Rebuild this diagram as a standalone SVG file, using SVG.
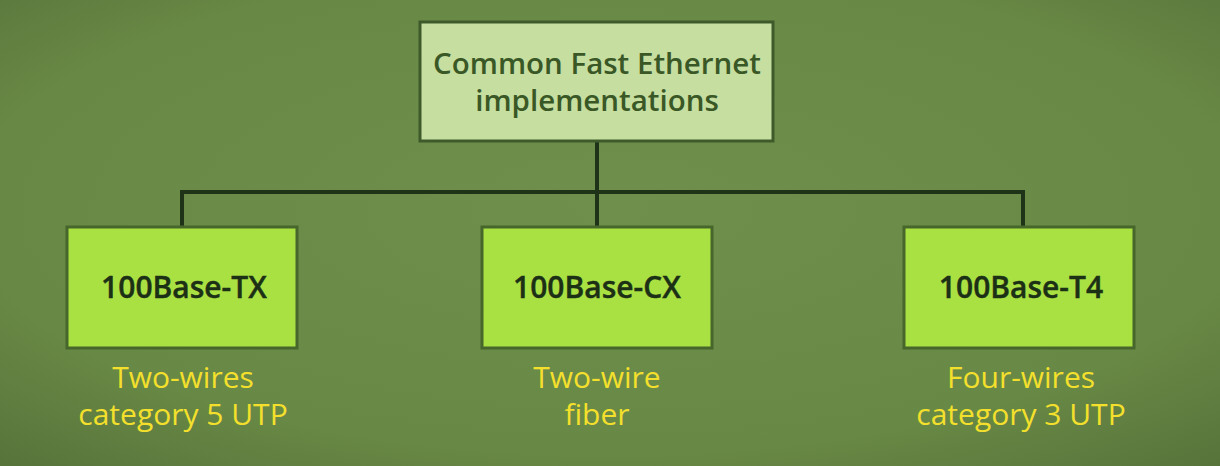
<svg xmlns="http://www.w3.org/2000/svg" width="1220" height="466" viewBox="0 0 1220 466">
<defs>
<radialGradient id="bg" cx="50%" cy="45%" r="75%">
<stop offset="0" stop-color="#6f8f4d"/>
<stop offset="0.7" stop-color="#688845"/>
<stop offset="1" stop-color="#56733a"/>
</radialGradient>
</defs>
<style>
.title{font-family:"Open Sans","Noto Sans",sans-serif;font-weight:600;font-size:29.5px;fill:#3a5726;text-anchor:middle}
.lbl{font-family:"Open Sans","Noto Sans",sans-serif;font-weight:600;font-size:30px;fill:#1c3016;text-anchor:middle;stroke:#1c3016;stroke-width:0.4}
.cap{font-family:"Open Sans","Noto Sans",sans-serif;font-weight:500;font-size:30px;fill:#f4e02c;text-anchor:middle}
.top{fill:#c6dea0;stroke:#3e5a2b;stroke-width:3}
.box{fill:#a9e142;stroke:#46662c;stroke-width:3}
.conn{fill:none;stroke:#1e3318;stroke-width:4}
</style>
<rect width="1220" height="466" fill="url(#bg)"/>
<g id="connectors">
<path class="conn" d="M597 141 V227"/>
<path class="conn" d="M182 227 V192 H1023 V227"/>
</g>
<g id="root">
<rect class="top" x="420" y="22" width="353" height="119"/>
<text class="title" x="597" y="74">Common Fast Ethernet</text>
<text class="title" x="597" y="111">implementations</text>
</g>
<g id="tx">
<rect class="box" x="67" y="227" width="230" height="121"/>
<text class="lbl" x="184" y="298">100Base-TX</text>
<text class="cap" x="183" y="388">Two-wires</text>
<text class="cap" x="183" y="425">category 5 UTP</text>
</g>
<g id="cx">
<rect class="box" x="482" y="227" width="230" height="121"/>
<text class="lbl" x="597" y="298">100Base-CX</text>
<text class="cap" x="597" y="388">Two-wire</text>
<text class="cap" x="597" y="425">fiber</text>
</g>
<g id="t4">
<rect class="box" x="904" y="227" width="230" height="121"/>
<text class="lbl" x="1021" y="298">100Base-T4</text>
<text class="cap" x="1021" y="388">Four-wires</text>
<text class="cap" x="1021" y="425">category 3 UTP</text>
</g>
</svg>
